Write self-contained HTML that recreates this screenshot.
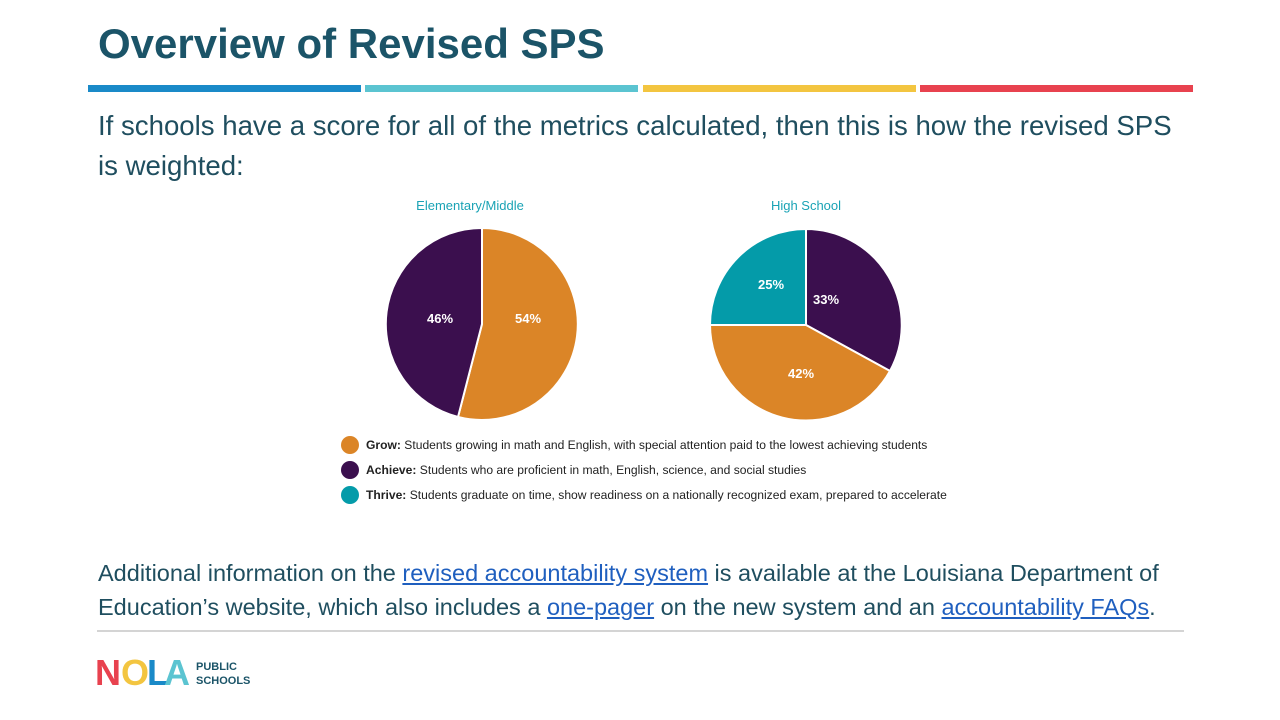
<!DOCTYPE html>
<html><head><meta charset="utf-8">
<style>
body{margin:0;width:1280px;height:720px;background:#fff;position:relative;overflow:hidden;font-family:"Liberation Sans",sans-serif}
.t{position:absolute;white-space:nowrap}
h1{position:absolute;left:98px;top:20px;margin:0;font-size:42px;font-weight:bold;color:#1b5468}
.bar{position:absolute;top:85px;height:7px;width:273px}
.p{color:#1f4e5f;font-size:27.6px}
a{color:#1f5fbf;text-decoration:underline}
</style></head><body>
<h1>Overview of Revised SPS</h1>
<div class="bar" style="left:88px;background:#1a8ac8"></div>
<div class="bar" style="left:365px;background:#5bc4d1"></div>
<div class="bar" style="left:643px;background:#f3c540"></div>
<div class="bar" style="left:920px;background:#e8424f"></div>
<div class="t p" style="left:98px;top:110px">If schools have a score for all of the metrics calculated, then this is how the revised SPS</div>
<div class="t p" style="left:98px;top:150px">is weighted:</div>
<svg style="position:absolute;left:0;top:0" width="1280" height="720">
<g font-family="Liberation Sans,sans-serif">
<text x="470" y="210" font-size="13" fill="#1aa3b5" text-anchor="middle">Elementary/Middle</text>
<text x="806" y="210" font-size="13" fill="#1aa3b5" text-anchor="middle">High School</text>
<path d="M482,324 L482,228 A96,96 0 1 1 458,417 Z" fill="#db8527" stroke="#fff" stroke-width="2"/>
<path d="M482,324 L458,417 A96,96 0 0 1 482,228 Z" fill="#3b0f4e" stroke="#fff" stroke-width="2"/>
<path d="M806,325 L806,229 A96,96 0 0 1 890,371 Z" fill="#3b0f4e" stroke="#fff" stroke-width="2"/>
<path d="M806,325 L890,371 A96,96 0 0 1 710,325 Z" fill="#db8527" stroke="#fff" stroke-width="2"/>
<path d="M806,325 L710,325 A96,96 0 0 1 806,229 Z" fill="#049ba9" stroke="#fff" stroke-width="2"/>
<g fill="#fff" font-size="13" font-weight="bold" text-anchor="middle">
<text x="440" y="323">46%</text><text x="528" y="323">54%</text>
<text x="771" y="289">25%</text><text x="826" y="304">33%</text><text x="801" y="378">42%</text>
</g>
<circle cx="350" cy="445" r="9" fill="#db8527"/>
<circle cx="350" cy="470" r="9" fill="#3b0f4e"/>
<circle cx="350" cy="495" r="9" fill="#049ba9"/>
<g font-size="12.1" fill="#222">
<text x="366" y="449"><tspan font-weight="bold">Grow:</tspan> Students growing in math and English, with special attention paid to the lowest achieving  students</text>
<text x="366" y="474"><tspan font-weight="bold">Achieve:</tspan> Students who are proficient in math, English, science, and social studies</text>
<text x="366" y="499"><tspan font-weight="bold">Thrive:</tspan> Students graduate on time, show readiness on a nationally recognized exam, prepared to accelerate</text>
</g>
</g>
<line x1="97" y1="631" x2="1184" y2="631" stroke="#aaa" stroke-width="1"/>
<g font-family="Liberation Sans,sans-serif" font-weight="bold">
<text x="95" y="685" font-size="36" fill="#e8424f">N</text>
<text x="121" y="685" font-size="36" fill="#f3c540">O</text>
<text x="147" y="685" font-size="36" fill="#1a8ac8">L</text>
<text x="164" y="685" font-size="36" fill="#5bc4d1">A</text>
<text x="196" y="670" font-size="11" fill="#1b5468">PUBLIC</text>
<text x="196" y="684" font-size="11" fill="#1b5468">SCHOOLS</text>
</g>
</svg>
<div class="t p" style="left:98px;top:560px;font-size:23.5px">Additional information on the <a>revised accountability system</a> is available at the Louisiana Department of</div>
<div class="t p" style="left:98px;top:594px;font-size:23.5px">Education’s website, which also includes a <a>one-pager</a> on the new system and an <a>accountability FAQs</a>.</div>
</body></html>
